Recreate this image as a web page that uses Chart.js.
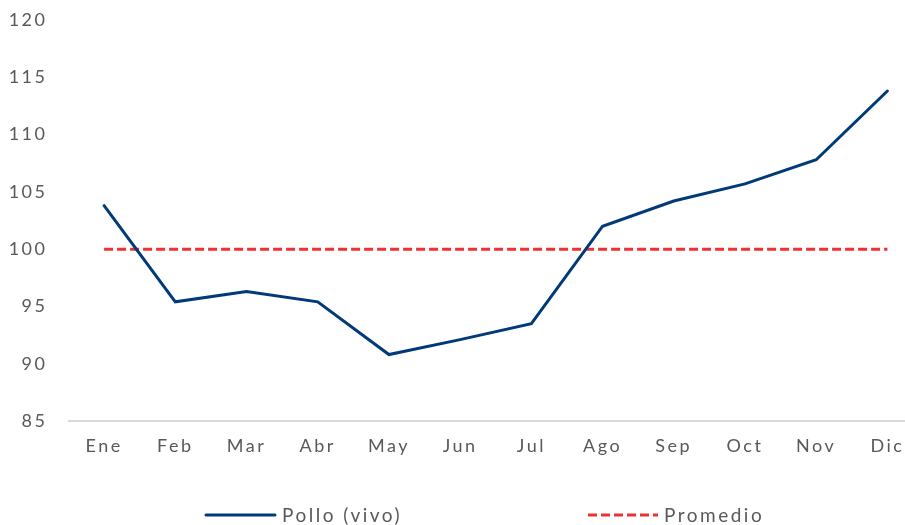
<!DOCTYPE html>
<html>
<head>
<meta charset="utf-8">
<script src="https://cdn.jsdelivr.net/npm/chart.js@4"></script>
<style>
html,body{margin:0;padding:0;background:#fff;overflow:hidden;width:905px;height:525px;}
#wrap{position:absolute;left:0;top:0;width:923px;height:525px;}
#legend{position:absolute;top:503px;left:0;width:905px;height:22px;font-family:Lato,"Open Sans",sans-serif;font-size:19px;color:#595959;letter-spacing:2.5px;}
.item{position:absolute;top:0;display:flex;align-items:center;white-space:nowrap;}
.item svg{margin-right:5px;}
</style>
</head>
<body>
<div id="wrap"><canvas id="c" width="923" height="525"></canvas></div>
<div id="legend"></div>
<script>
const categories = ["Ene","Feb","Mar","Abr","May","Jun","Jul","Ago","Sep","Oct","Nov","Dic"];
const polloVivo = [103.8, 95.4, 96.3, 95.4, 90.8, 92.1, 93.5, 102.0, 104.2, 105.7, 107.8, 113.8];
const promedio = [100,100,100,100,100,100,100,100,100,100,100,100];
const seriesNames = ["Pollo (vivo)", "Promedio"];
const yTicks = [85,90,95,100,105,110,115,120];

const spacing = {
  id:'spacing',
  beforeDraw(chart){ chart.ctx.letterSpacing = '2.5px'; }
};

new Chart(document.getElementById('c'), {
  type:'line',
  data:{
    labels:categories,
    datasets:[
      {label:seriesNames[0], data:polloVivo, borderColor:'#003a78', borderWidth:3, pointRadius:0, tension:0, fill:false, borderCapStyle:'round'},
      {label:seriesNames[1], data:promedio, borderColor:'#ee3232', borderWidth:3, borderDash:[9,4], pointRadius:0, tension:0, fill:false}
    ]
  },
  options:{
    responsive:false,
    animation:false,
    events:[],
    layout:{padding:{top:20,bottom:0,left:0,right:0}},
    plugins:{legend:{display:false},tooltip:{enabled:false}},
    scales:{
      x:{
        offset:true,
        grid:{display:false, drawTicks:false},
        border:{display:true,color:'#d9d9d9',width:2},
        ticks:{color:'#595959',font:{family:'Lato,"Open Sans",sans-serif',size:18},padding:14,maxRotation:0,autoSkip:false},
        afterFit(s){ s.height = 104; s.paddingLeft = 0; s.paddingRight = 0; }
      },
      y:{
        min:85,max:120,
        afterBuildTicks(s){ s.ticks = yTicks.map(v=>({value:v})); },
        grid:{display:false, drawTicks:false},
        border:{display:false},
        ticks:{color:'#595959',font:{family:'Lato,"Open Sans",sans-serif',size:18},padding:21},
        afterFit(s){ s.width = 68.5; s.paddingTop = 0; s.paddingBottom = 0; }
      }
    }
  },
  plugins:[spacing]
});

const lg = document.getElementById('legend');
const items = [
  {name:seriesNames[0], left:204, svg:'<svg width="73" height="6"><line x1="2" y1="3" x2="71" y2="3" stroke="#003a78" stroke-width="3" stroke-linecap="round"/></svg>'},
  {name:seriesNames[1], left:587, svg:'<svg width="72" height="6"><line x1="1" y1="3" x2="71" y2="3" stroke="#ee3232" stroke-width="3" stroke-dasharray="9 4"/></svg>'}
];
items.forEach(it=>{
  const d=document.createElement('div'); d.className='item'; d.style.left=it.left+'px';
  d.innerHTML = it.svg + '<span>'+it.name+'</span>';
  lg.appendChild(d);
});
</script>
</body>
</html>
